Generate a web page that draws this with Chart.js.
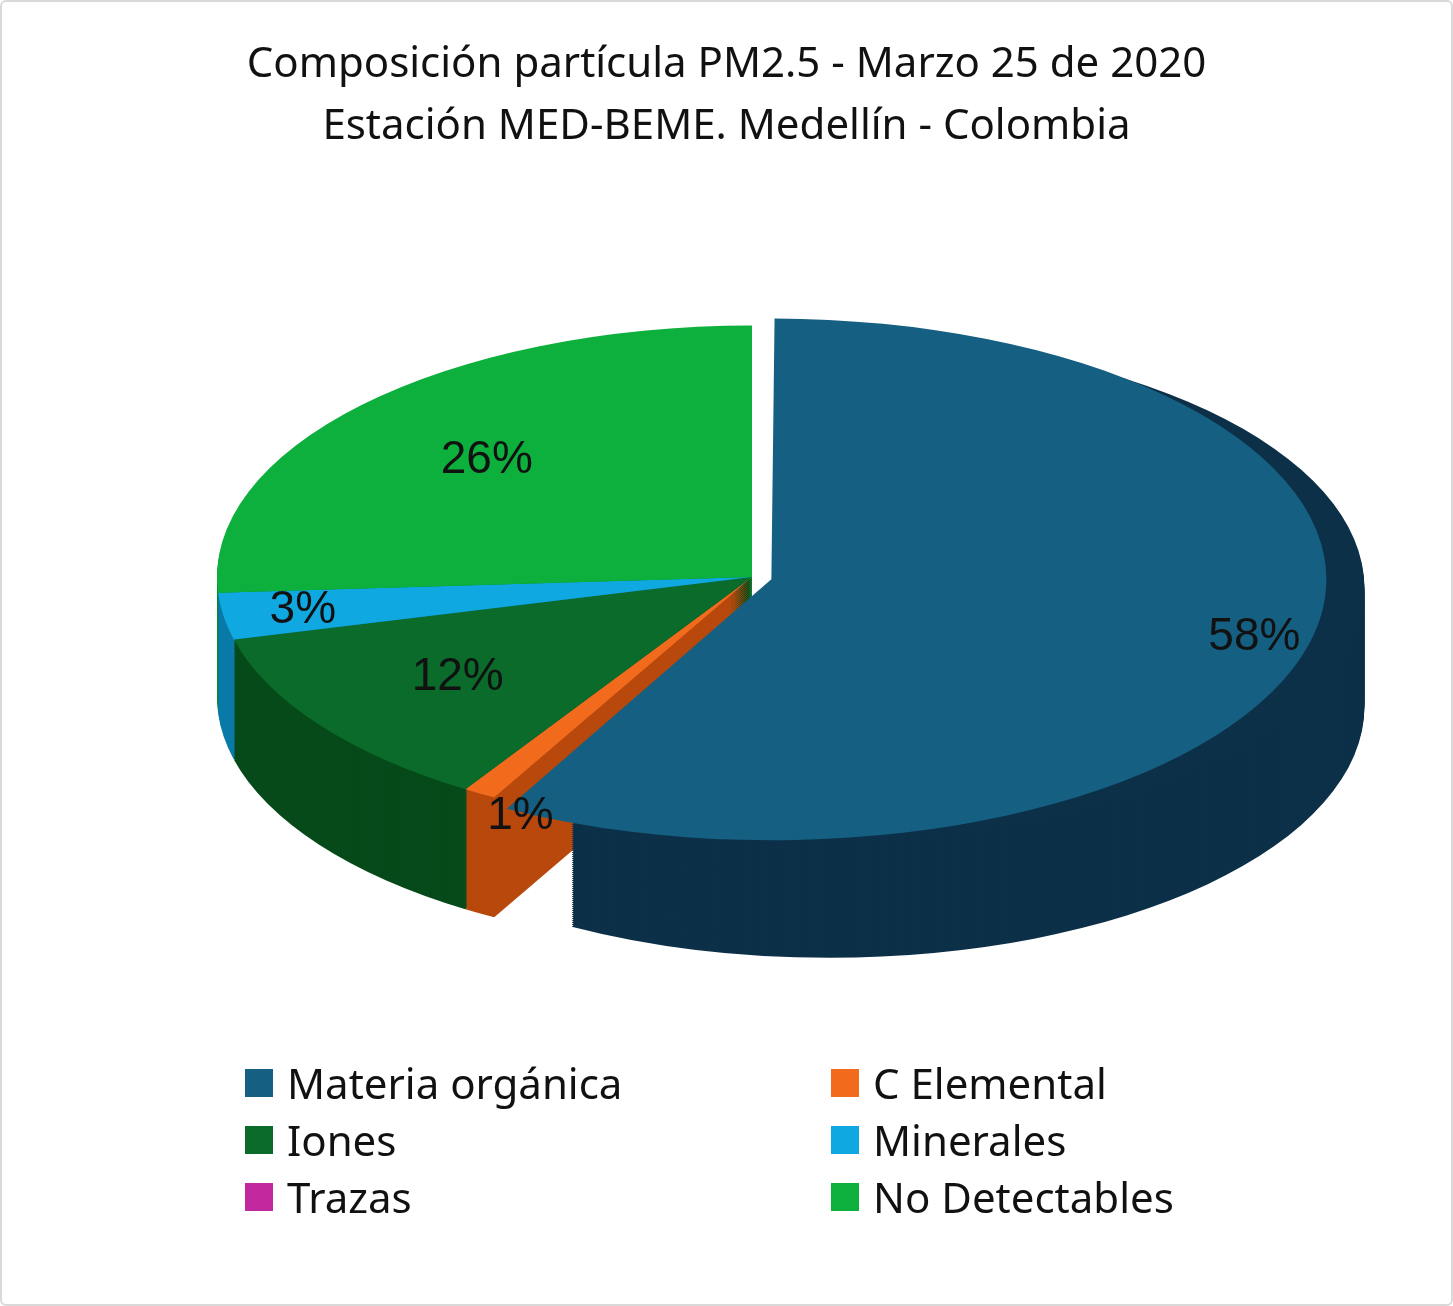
<!DOCTYPE html>
<html>
<head>
<meta charset="utf-8">
<script src="https://cdn.jsdelivr.net/npm/chart.js@4"></script>
<style>
  body { margin: 0; background: #fff; }
  #frame { position: relative; width: 1449px; height: 1302px; border: 2px solid #d9d9d9; border-radius: 6px; overflow: hidden; }
  #title { position: absolute; top: 28px; left: 0; width: 100%; text-align: center; font: 42px "Noto Sans", sans-serif; line-height: 62px; color: #111; }
  #chart { position: absolute; top: 0; left: 0; }
  #legend { position: absolute; top: 1052px; left: 243px; display: grid; grid-template-columns: 586px 500px; font: 42px "Noto Sans", sans-serif; color: #111; }
  .item { display: flex; align-items: center; height: 57px; }
  .box { width: 28px; height: 28px; margin-right: 14px; }
</style>
</head>
<body>
<div id="frame">
  <canvas id="chart" width="1449" height="1150"></canvas>
  <div id="title">Composición partícula PM2.5 - Marzo 25 de 2020<br>Estación MED-BEME. Medellín - Colombia</div>
  <div id="legend"></div>
</div>
<script>
const labels = ["Materia orgánica", "C Elemental", "Iones", "Minerales", "Trazas", "No Detectables"];
const values = [58, 1, 12, 3, 0, 26];
const colors = ["#156082", "#F26B1D", "#0B6B2A", "#10A8E0", "#C2299F", "#0DB03C"];
const sideColors = ["#0D3049", "#B8480C", "#064A1A", "#0A7AA8", "#8A1A70", "#088A2C"];
const offsets = [80, 0, 0, 0, 0, 0];

const flat = 0.47;   // vertical squash of the pie
const depth = 120;   // thickness in screen pixels

const legendEl = document.getElementById("legend");
labels.forEach((l, i) => {
    const d = document.createElement("div");
    d.className = "item";
    d.innerHTML = `<span class="box" style="background:${colors[i]}"></span>${l}`;
    legendEl.appendChild(d);
});

function sectorPath(ctx, el, dy) {
    const off = el.options.offset || 0;
    const mid = (el.startAngle + el.endAngle) / 2;
    const x = el.x + Math.cos(mid) * off;
    const y = el.y + Math.sin(mid) * off + dy;
    ctx.beginPath();
    ctx.moveTo(x, y);
    ctx.arc(x, y, el.outerRadius, el.startAngle, el.endAngle);
    ctx.closePath();
}

const pie3d = {
    id: "pie3d",
    beforeDatasetsDraw(chart) {
        const ctx = chart.ctx;
        const meta = chart.getDatasetMeta(0);
        const cy = meta.data[0].y;
        ctx.save();
        ctx.translate(0, cy);
        ctx.scale(1, flat);
        ctx.translate(0, -cy);
        for (let k = depth; k > 0; k -= 2) {
            meta.data.forEach((el, i) => {
                if (!values[i]) return;
                sectorPath(ctx, el, k / flat);
                ctx.fillStyle = sideColors[i];
                ctx.fill();
            });
        }
    },
    afterDatasetsDraw(chart) {
        const ctx = chart.ctx;
        ctx.restore();
        const meta = chart.getDatasetMeta(0);
        ctx.save();
        ctx.font = "46px 'Liberation Sans', Arial, sans-serif";
        ctx.fillStyle = "#111";
        ctx.textAlign = "center";
        ctx.textBaseline = "middle";
        meta.data.forEach((el, i) => {
            if (!values[i]) return;
            const off = el.options.offset || 0;
            const mid = (el.startAngle + el.endAngle) / 2;
            const f = values[i] < 5 ? 0.85 : (values[i] > 50 ? 0.82 : 0.68);
            const r = el.outerRadius * f + off;
            const x = el.x + Math.cos(mid) * r;
            let y = el.y + Math.sin(mid) * r * flat;
            if (values[i] < 2) y += 55;
            ctx.fillText(values[i] + "%", x, y);
        });
        ctx.restore();
    }
};

new Chart(document.getElementById("chart"), {
    type: "pie",
    data: { labels, datasets: [{ data: values, backgroundColor: colors, borderWidth: 0, offset: offsets }] },
    options: {
        responsive: false,
        animation: false,
        radius: 535,
        layout: { padding: { left: 51, right: 0, top: 0, bottom: 0 } },
        plugins: { legend: { display: false }, tooltip: { enabled: false } }
    },
    plugins: [pie3d]
});
</script>
</body>
</html>
